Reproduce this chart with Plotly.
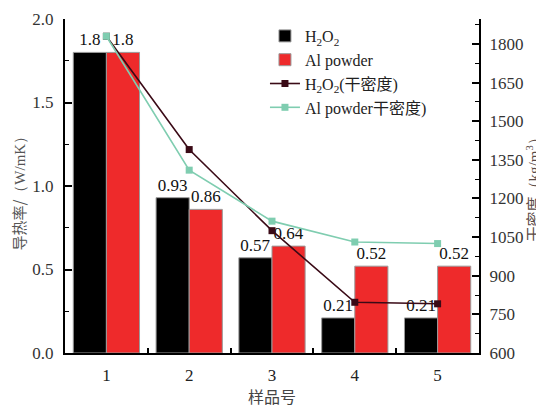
import plotly.graph_objects as go

samples = [1, 2, 3, 4, 5]
tick_labels = ["1", "2", "3", "4", "5"]
h2o2_k = [1.80, 0.93, 0.57, 0.21, 0.21]
al_k = [1.80, 0.86, 0.64, 0.52, 0.52]
h2o2_k_text = ["1.8", "0.93", "0.57", "0.21", "0.21"]
al_k_text = ["1.8", "0.86", "0.64", "0.52", "0.52"]
h2o2_density = [1830, 1390, 1075, 797, 791]
al_density = [1830, 1310, 1112, 1031, 1025]

SERIF = "Liberation Serif, Times New Roman, serif"
CJK = "Noto Sans CJK SC"
MIX = "Liberation Serif, Noto Sans CJK SC"

fig = go.Figure()
fig.add_trace(go.Bar(
    x=samples, y=h2o2_k, name="H<sub>2</sub>O<sub>2</sub>",
    marker=dict(color="#000000", line=dict(color="#9a9a9a", width=1)),
    text=h2o2_k_text, textposition="outside", cliponaxis=False,
    textfont=dict(family=SERIF, size=17, color="#111"),
))
fig.add_trace(go.Bar(
    x=samples, y=al_k, name="Al powder",
    marker=dict(color="#ee2a2b", line=dict(color="#9a9a9a", width=1)),
    text=al_k_text, textposition="outside", cliponaxis=False,
    textfont=dict(family=SERIF, size=17, color="#111"),
))
fig.add_trace(go.Scatter(
    x=samples, y=h2o2_density, yaxis="y2", mode="lines+markers",
    name="H<sub>2</sub>O<sub>2</sub>(干密度)",
    line=dict(color="#3a0a16", width=1.6),
    marker=dict(symbol="square", size=7, color="#3a0a16"),
    cliponaxis=False,
))
fig.add_trace(go.Scatter(
    x=samples, y=al_density, yaxis="y2", mode="lines+markers",
    name="Al powder干密度)",
    line=dict(color="#7fcdb0", width=1.6),
    marker=dict(symbol="square", size=7, color="#7fcdb0"),
    cliponaxis=False,
))

# the page body has an 8px default margin, so the figure is sized/offset to compensate
fig.update_layout(
    template="none",
    width=536, height=399,
    margin=dict(l=57, r=65, t=11, b=54, pad=0),
    paper_bgcolor="white", plot_bgcolor="white",
    barmode="group", bargap=0.2, bargroupgap=0,
    font=dict(family=MIX, size=16, color="#222"),
    showlegend=True,
    legend=dict(
        x=0.483, y=1.0, xanchor="left", yanchor="top",
        bgcolor="rgba(0,0,0,0)", borderwidth=0,
        font=dict(family=MIX, size=16, color="#222"),
        tracegroupgap=0, itemwidth=30,
    ),
    xaxis=dict(
        automargin=False,
        range=[0.5, 5.5], tickvals=samples, ticktext=tick_labels,
        showline=True, linecolor="#000", linewidth=2,
        ticks="inside", ticklen=5, tickcolor="#000", tickwidth=1.5,
        minor=dict(dtick=0.5, tick0=0.5, ticks="inside", ticklen=5, tickcolor="#000", tickwidth=1.5),
        showgrid=False, zeroline=False, layer="below traces",
        tickfont=dict(family=SERIF, size=17, color="#222"),
        ticklabelstandoff=6,
    ),
    yaxis=dict(
        automargin=False,
        range=[0, 2.0], dtick=0.5, tick0=0, tickformat=".1f",
        showline=True, linecolor="#000", linewidth=2,
        ticks="inside", ticklen=7, tickcolor="#000", tickwidth=1.5,
        minor=dict(dtick=0.25, ticks="inside", ticklen=4, tickcolor="#000", tickwidth=1.2),
        showgrid=False, zeroline=False, layer="below traces",
        tickfont=dict(family=SERIF, size=17, color="#333"),
        ticklabelstandoff=6,
    ),
    yaxis2=dict(
        automargin=False,
        overlaying="y", side="right",
        range=[600, 1897], dtick=150, tick0=600,
        showline=True, linecolor="#000", linewidth=2,
        ticks="inside", ticklen=7, tickcolor="#000", tickwidth=1.5,
        minor=dict(dtick=75, tick0=600, ticks="inside", ticklen=4, tickcolor="#000", tickwidth=1.2),
        showgrid=False, zeroline=False, layer="below traces",
        tickfont=dict(family=SERIF, size=17, color="#333"),
        ticklabelstandoff=5,
    ),
    annotations=[
        dict(text="样品号", xref="paper", yref="paper", x=0.5, y=-0.129,
             xanchor="center", yanchor="middle", showarrow=False,
             font=dict(family=CJK, size=16, color="#444")),
        dict(text="导热率/<span style=\"font-family:Liberation Serif\">（W/mK）</span>",
             xref="paper", yref="paper", x=-0.1147, y=0.488, textangle=-90,
             xanchor="center", yanchor="middle", showarrow=False,
             font=dict(family=CJK, size=15, color="#555")),
        dict(text="干密度<span style=\"font-family:Liberation Serif\">（kg/m<sup>3</sup>）</span>",
             xref="paper", yref="paper", x=1.129, y=0.5, textangle=-90,
             xanchor="center", yanchor="middle", showarrow=False,
             font=dict(family=CJK, size=15, color="#5a4a46")),
    ],
)

fig.write_html("out.html")
